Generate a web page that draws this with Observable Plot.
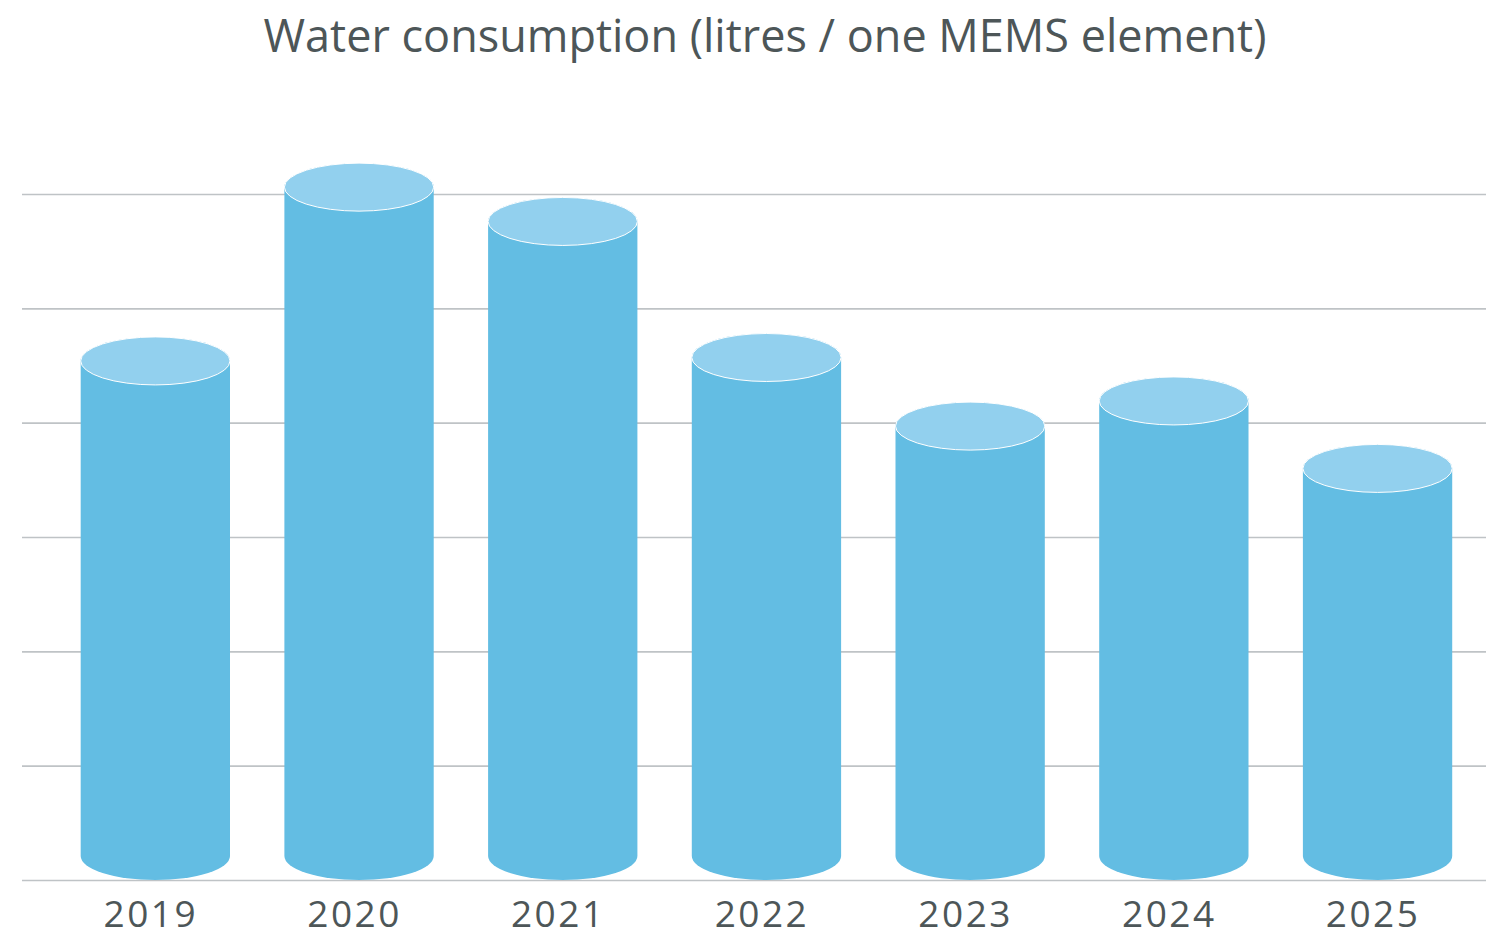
<!DOCTYPE html>
<html>
<head>
<meta charset="utf-8">
<script src="https://cdn.jsdelivr.net/npm/d3@7"></script>
<script src="https://cdn.jsdelivr.net/npm/@observablehq/plot@0.6"></script>
<style>
  html, body { margin: 0; padding: 0; background: #fff; }
  #title { height: 70px; width: 1486px; box-sizing: border-box; padding-left: 44px; text-align: center;
           font-family: "Open Sans", sans-serif; font-size: 45px; color: #4d5658; line-height: 70px; white-space: nowrap; }
  svg { display: block; }
  g[aria-label="x-axis tick label"] text { letter-spacing: 2.5px; }
</style>
</head>
<body>
<div id="title">Water consumption (litres / one MEMS element)</div>
<div id="chart"></div>
<script>
const years = ["2019", "2020", "2021", "2022", "2023", "2024", "2025"];
const consumption = [4.54, 6.06, 5.76, 4.57, 3.97, 4.19, 3.60];
const gridValues = [0, 1, 2, 3, 4, 5, 6];

const data = years.map((y, i) => ({year: y, value: consumption[i]}));

const chart = Plot.plot({
  width: 1486,
  height: 868,
  marginLeft: 22,
  marginRight: 0,
  marginTop: 124,
  marginBottom: 58,
  style: {fontFamily: "Open Sans, sans-serif", background: "white"},
  x: {type: "band", domain: years, range: [26.3, 1506.6], padding: 0.267, round: false, label: null},
  y: {domain: [0, 6], axis: null},
  marks: [
    Plot.ruleY(gridValues, {stroke: "#bfc3c6", strokeWidth: 1.6}),
    Plot.barY(data, {x: "year", y1: 0, y2: "value", fill: "#63bde3", insetTop: -24, rx: 100, ry: 24}),
    Plot.barY(data, {x: "year", y1: "value", y2: "value", fill: "#92d0ee", stroke: "white", strokeWidth: 1,
                     insetTop: -24, insetBottom: -24, rx: 100, ry: 24}),
    Plot.axisX({tickSize: 0, tickPadding: 20, fontSize: 37, fill: "#4d5658", dx: -5, label: null})
  ]
});
document.getElementById("chart").appendChild(chart);
</script>
</body>
</html>
